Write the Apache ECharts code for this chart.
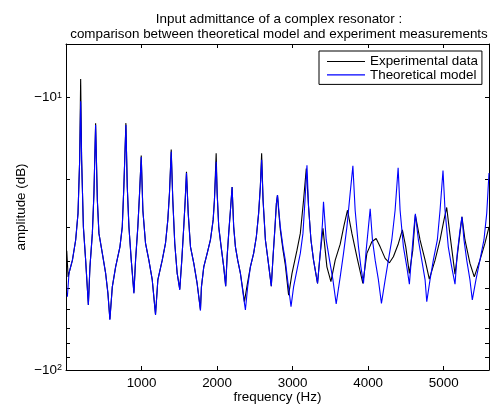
<!DOCTYPE html>
<html><head><meta charset="utf-8">
<script src="https://cdn.jsdelivr.net/npm/echarts@6/dist/echarts.min.js"></script>
<style>html,body{margin:0;padding:0;background:#fff}#c{width:491px;height:407px}</style>
</head><body><div id="c"></div>
<script>
// Theoretical model (blue): frequency (Hz) and amplitude (dB)
const theoryFreq = [18,40,85,128,159,181,194,207,230,260,296,317,349,370,392,415,436,481,525,555,581,613,657,714,745,766,793,811,833,864,899,921,951,974,996,1018,1053,1097,1142,1185,1216,1274,1317,1348,1370,1393,1414,1440,1472,1506,1533,1559,1578,1595,1618,1648,1692,1736,1780,
1793,1824,1869,1912,1948,1965,1988,2001,2022,2054,2088,2114,2133,2154,2177,2199,2220,2243,2273,2309,2344,2375,2405,2441,2484,2520,2550,2573,2590,2609,2640,2669,2718,2741,2767,2785,2800,2837,2873,2903,2934,2979,3013,3058,3102,3137,3164,3190,3211,3243,3277,3330,3370,3395,3409,3445,3489,3534,3577,
3630,3674,3719,3762,3798,3828,3872,3904,3938,3974,4004,4027,4057,4093,4136,4176,4225,4268,4313,4357,4397,4423,4467,4512,4546,4578,4608,4625,4665,4710,4754,4776,4819,4863,4916,4952,4991,5018,5061,5106,5150,5180,5216,5242,5269,5305,5348,5379,5427,5480,5533,5570,5600];
const theoryDb = [-53.8,-44.1,-39.5,-33.3,-26.6,-16.9,-10.3,-16.9,-29.8,-39.5,-57.7,-41.8,-31.5,-22.4,-12.6,-23.8,-31.5,-37.3,-44.2,-52.3,-65.5,-49.5,-41.8,-35.3,-29.8,-21.2,-12.6,-21.2,-29.8,-39.5,-52.3,-39.5,-29.8,-22.4,-16.5,-26.0,-34.3,-39.5,-46.7,-62.8,-46.7,-39.5,-34.3,-28.1,-22.4,-15.8,-23.8,-34.3,-44.2,-50.8,-39.5,-29.8,-23.8,-18.9,-26.6,-35.3,-40.6,-48.1,-60.5,
-49.5,-41.8,-37.3,-33.3,-28.1,-23.8,-17.2,-22.4,-29.8,-35.3,-41.8,-49.2,-38.4,-31.5,-25.9,-21.3,-29.8,-35.3,-39.5,-44.2,-52.3,-60.2,-49.5,-41.8,-37.3,-32.4,-26.6,-21.2,-16.9,-23.8,-33.3,-38.4,-49.2,-38.4,-29.8,-24.5,-22.8,-29.8,-35.3,-39.5,-46.7,-58.5,-49.5,-42.9,-37.3,-31.5,-23.8,-17.7,-25.1,-33.3,-39.5,-48.1,-36.0,-29.0,-24.1,-33.3,-39.5,-46.7,-57.2,
-45.5,-37.3,-29.8,-22.4,-17.8,-25.9,-35.3,-41.8,-48.1,-36.3,-29.8,-25.6,-33.3,-39.5,-46.7,-56.9,-46.7,-39.5,-33.3,-25.9,-18.1,-25.9,-35.3,-41.8,-48.4,-37.3,-29.8,-26.7,-33.3,-39.5,-46.7,-56.1,-46.7,-39.5,-33.3,-25.9,-18.5,-25.9,-35.3,-41.8,-48.4,-37.3,-30.6,-27.4,-33.3,-39.5,-46.7,-55.3,-46.7,-39.5,-33.3,-26.6,-18.9];

// Experimental data (black)
const expFreq = [10,28,40,85,128,159,181,194,207,230,260,296,317,349,370,392,415,436,481,525,555,581,613,657,714,745,766,793,811,833,864,899,921,951,974,996,1018,1053,1097,1142,1185,1216,1274,1317,1348,1370,1393,1414,1440,1472,1506,1533,1559,1578,1595,1618,1648,1692,1736,1780,
1793,1824,1869,1912,1948,1965,1988,2001,2022,2054,2088,2114,2133,2154,2177,2199,2220,2243,2273,2309,2340,2362,2400,2441,2484,2520,2550,2573,2590,2609,2640,2669,2718,2741,2767,2785,2800,2815,2837,2873,2903,2947,2992,3058,3102,3145,3181,3211,3243,3277,3330,3365,3402,3454,3507,3564,3630,3680,3727,
3785,3851,3930,3983,4049,4106,4159,4225,4282,4334,4401,4453,4498,4546,4591,4625,4687,4754,4810,4886,4952,5004,5040,5081,5150,5194,5242,5282,5348,5405,5480,5546,5600];
const expDb = [-36.5,-45.5,-44.1,-39.5,-33.3,-26.6,-16.9,-8.54,-16.9,-29.8,-39.5,-57.7,-41.8,-31.5,-22.4,-12.4,-23.8,-31.5,-37.3,-44.2,-52.3,-65.0,-49.5,-41.8,-35.3,-29.8,-21.2,-12.4,-21.2,-29.8,-39.5,-52.0,-39.5,-29.8,-22.4,-16.3,-26.0,-34.3,-39.5,-46.7,-62.5,-46.7,-39.5,-34.3,-28.1,-22.4,-15.5,-23.8,-34.3,-44.2,-50.5,-39.5,-29.8,-23.8,-18.7,-26.6,-35.3,-40.6,-48.1,-60.0,
-49.5,-41.8,-37.3,-33.3,-28.1,-23.8,-16.0,-22.4,-29.8,-35.3,-41.8,-49.2,-38.4,-31.5,-25.9,-21.3,-29.8,-35.3,-39.5,-44.2,-50.5,-56.1,-48.5,-41.8,-37.3,-32.4,-26.6,-21.2,-16.0,-23.8,-33.3,-38.4,-49.2,-38.4,-29.8,-24.5,-22.8,-25.9,-30.5,-36.3,-41.0,-53.1,-44.2,-36.3,-31.5,-23.8,-18.2,-25.1,-33.3,-39.5,-48.1,-37.5,-30.2,-41.8,-47.4,-39.5,-34.5,-29.5,-25.9,
-31.5,-38.4,-48.1,-37.3,-33.8,-32.9,-35.3,-38.9,-40.4,-38.4,-34.3,-30.6,-35.3,-44.2,-36.3,-27.0,-33.3,-39.5,-46.4,-39.5,-33.3,-28.1,-25.3,-31.5,-44.5,-35.3,-27.4,-33.3,-40.6,-45.5,-39.5,-34.3,-29.8];

const xTickValues = [1000, 2000, 3000, 4000, 5000];
const yTickDb = [-10, -20, -30, -40, -50, -60, -70, -80, -90, -100];
const yLabelDb = [-10, -100];
const seriesNames = ['Experimental data', 'Theoretical model'];
const titleText = 'Input admittance of a complex resonator :\ncomparison between theoretical model and experiment measurements';

const FONT = '"Liberation Sans", Arial, Helvetica, sans-serif';
const FS = 13.4;
const pairs = (f, d) => f.map((v, i) => [v, -d[i]]); // magnitude for the (inverted) log axis
const yMag = yTickDb.map(v => -v);
const yLabMag = yLabelDb.map(v => -v);

const lineCommon = { show: true, onZero: false, lineStyle: { color: '#000', width: 1 } };
const tick = (vals, inside, len) => ({ show: true, customValues: vals, inside: inside, length: len, lineStyle: { color: '#000', width: 1 } });

const xBase = { type: 'value', min: 0, max: 5600, axisLine: lineCommon, splitLine: { show: false } };
const yBase = { type: 'log', logBase: 10, min: 6.35, max: 100, inverse: true, axisLine: lineCommon, splitLine: { show: false }, minorTick: { show: false } };

const chart = echarts.init(document.getElementById('c'), null, { renderer: 'canvas' });
chart.setOption({
  animation: false,
  backgroundColor: '#fff',
  title: {
    text: titleText, left: 274, top: 7, textAlign: 'center',
    textStyle: { fontFamily: FONT, fontSize: FS, fontWeight: 'normal', color: '#000', lineHeight: 15 }
  },
  legend: {
    data: seriesNames, orient: 'vertical', left: 319, top: 51,
    icon: 'rect', itemWidth: 38, itemHeight: 1.2, itemGap: 0.4,
    padding: [4, 4, 3, 8],
    borderColor: '#000', borderWidth: 1, backgroundColor: '#fff',
    textStyle: { fontFamily: FONT, fontSize: FS, color: '#000', lineHeight: 12.6 }
  },
  grid: { left: 66, right: 2, top: 44, bottom: 37, containLabel: false, outerBoundsMode: 'none' },
  xAxis: [
    Object.assign({}, xBase, {
      position: 'bottom',
      name: 'frequency (Hz)', nameLocation: 'middle', nameGap: 21, nameMoveOverlap: false,
      nameTextStyle: { fontFamily: FONT, fontSize: FS, color: '#000' },
      axisTick: tick(xTickValues, true, 4),
      axisLabel: { customValues: xTickValues, margin: 7, formatter: v => String(v), fontFamily: FONT, fontSize: FS, color: '#000' }
    }),
    Object.assign({}, xBase, {
      position: 'top',
      axisTick: tick(xTickValues, false, -4),
      axisLabel: { show: false }
    })
  ],
  yAxis: [
    Object.assign({}, yBase, {
      position: 'left',
      name: 'amplitude (dB)', nameLocation: 'middle', nameGap: 38, nameRotate: 90, nameMoveOverlap: false,
      nameTextStyle: { fontFamily: FONT, fontSize: FS, color: '#000' },
      axisTick: tick(yMag, false, -4),
      axisLabel: {
        customValues: yLabMag, margin: 4,
        verticalAlignMinLabel: 'middle', verticalAlignMaxLabel: 'middle',
        formatter: v => '{a|\u221210}{b|' + Math.round(Math.log10(v)) + '}',
        rich: {
          a: { fontFamily: FONT, fontSize: FS, color: '#000', verticalAlign: 'bottom', lineHeight: 13 },
          b: { fontFamily: FONT, fontSize: 9, color: '#000', verticalAlign: 'top', lineHeight: 9, padding: [0, 0, 8, 0] }
        }
      }
    }),
    Object.assign({}, yBase, {
      position: 'right',
      axisTick: tick(yMag, true, 4),
      axisLabel: { show: false }
    })
  ],
  series: [
    {
      name: seriesNames[0], type: 'line', symbol: 'none', showSymbol: false,
      xAxisIndex: 0, yAxisIndex: 0,
      data: pairs(expFreq, expDb),
      lineStyle: { color: '#000000', width: 1.1 }, itemStyle: { color: '#000000' }
    },
    {
      name: seriesNames[1], type: 'line', symbol: 'none', showSymbol: false,
      xAxisIndex: 0, yAxisIndex: 0,
      data: pairs(theoryFreq, theoryDb),
      lineStyle: { color: '#0000ff', width: 1.1 }, itemStyle: { color: '#0000ff' }
    }
  ]
});
</script></body></html>
